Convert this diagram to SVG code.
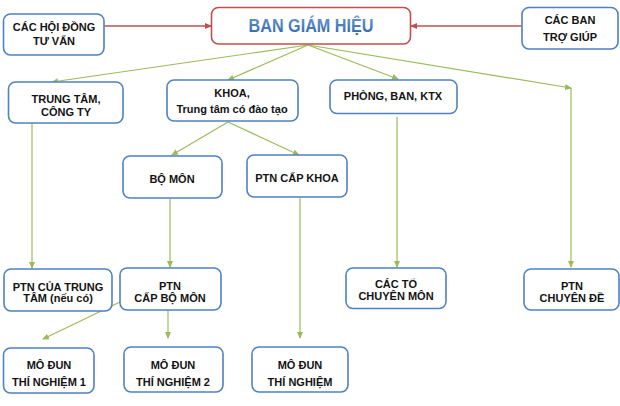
<svg xmlns="http://www.w3.org/2000/svg" width="620" height="406" viewBox="0 0 620 406">
  <defs>
    <style>
      .box{fill:#ffffff;stroke:#4f81c5;stroke-width:1.6}
      .rbox{fill:#ffffff;stroke:#c0504d;stroke-width:1.6}
      .t{font-family:"Liberation Sans",Arial,sans-serif;font-weight:bold;font-size:11px;fill:#141414;text-anchor:middle}
      .g{stroke:#9bbb59;stroke-width:1.2;fill:none;marker-end:url(#ga)}
      .r{stroke:#c0504d;stroke-width:1.6;fill:none;marker-end:url(#ra)}
      .title{font-family:"Liberation Sans",Arial,sans-serif;font-weight:bold;font-size:19px;text-anchor:middle}
    </style>
    <marker id="ga" markerUnits="userSpaceOnUse" markerWidth="7" markerHeight="6" refX="6" refY="3" orient="auto">
      <path d="M0,0 L7,3 L0,6 Z" fill="#9bbb59"/>
    </marker>
    <marker id="ra" markerUnits="userSpaceOnUse" markerWidth="7" markerHeight="6" refX="6" refY="3" orient="auto">
      <path d="M0,0 L7,3 L0,6 Z" fill="#c0504d"/>
    </marker>
    <linearGradient id="tg" x1="0" y1="0" x2="0" y2="1">
      <stop offset="0" stop-color="#6a9ad6"/>
      <stop offset="1" stop-color="#2e63a8"/>
    </linearGradient>
  </defs>

  <g id="connectors">
    <line class="r" x1="104" y1="26" x2="211" y2="26"/>
    <line class="r" x1="522" y1="26" x2="411" y2="26"/>
    <line class="g" x1="308" y1="45" x2="52" y2="82"/>
    <line class="g" x1="308" y1="45" x2="228" y2="80"/>
    <line class="g" x1="308" y1="45" x2="398" y2="79"/>
    <line class="g" x1="308" y1="45" x2="571" y2="88"/>
    <line class="g" x1="571" y1="88" x2="571" y2="267"/>
    <line class="g" x1="32" y1="123" x2="32" y2="268"/>
    <line class="g" x1="228" y1="122" x2="172" y2="155"/>
    <line class="g" x1="228" y1="122" x2="299" y2="155"/>
    <line class="g" x1="170" y1="199" x2="170" y2="267"/>
    <line class="g" x1="300" y1="198" x2="300" y2="338"/>
    <line class="g" x1="397" y1="117" x2="397" y2="267"/>
    <line class="g" x1="120" y1="302" x2="43" y2="339"/>
    <line class="g" x1="168" y1="310" x2="168" y2="338"/>
  </g>

  <g id="n-hoidong">
    <rect class="box" x="3.5" y="14" width="100.5" height="41" rx="7"/>
    <text class="t" x="54" y="31">CÁC HỘI ĐỒNG</text>
    <text class="t" x="54" y="45">TƯ VẤN</text>
  </g>

  <g id="n-bgh">
    <rect class="rbox" x="211.5" y="7.5" width="199" height="36.5" rx="7"/>
    <text class="title" x="311" y="32" fill="url(#tg)" textLength="125" lengthAdjust="spacingAndGlyphs">BAN GIÁM HIỆU</text>
  </g>

  <g id="n-trogiup">
    <rect class="box" x="522" y="7.5" width="96" height="41.5" rx="7"/>
    <text class="t" x="570" y="24">CÁC BAN</text>
    <text class="t" x="570" y="41">TRỢ GIÚP</text>
  </g>

  <g id="n-trungtam">
    <rect class="box" x="8.5" y="82" width="114.5" height="41" rx="7"/>
    <text class="t" x="66" y="103">TRUNG TÂM,</text>
    <text class="t" x="66" y="116">CÔNG TY</text>
  </g>

  <g id="n-khoa">
    <rect class="box" x="167" y="80" width="131" height="41" rx="7"/>
    <text class="t" x="232" y="97">KHOA,</text>
    <text class="t" x="232" y="113">Trung tâm có đào tạo</text>
  </g>

  <g id="n-phong">
    <rect class="box" x="330" y="80" width="127" height="33.5" rx="7"/>
    <text class="t" x="393" y="100">PHÒNG, BAN, KTX</text>
  </g>

  <g id="n-bomon">
    <rect class="box" x="123" y="156" width="99" height="42" rx="7"/>
    <text class="t" x="172" y="183">BỘ MÔN</text>
  </g>

  <g id="n-ptnkhoa">
    <rect class="box" x="247" y="155" width="100" height="42" rx="7"/>
    <text class="t" x="297" y="182">PTN CẤP KHOA</text>
  </g>

  <g id="n-ptntrungtam">
    <rect class="box" x="4" y="269" width="108" height="42" rx="7"/>
    <text class="t" x="58" y="291">PTN CỦA TRUNG</text>
    <text class="t" x="58" y="302">TÂM (nếu có)</text>
  </g>

  <g id="n-ptnbomon">
    <rect class="box" x="120" y="268" width="101" height="42" rx="7"/>
    <text class="t" x="170" y="290">PTN</text>
    <text class="t" x="170" y="302">CẤP BỘ MÔN</text>
  </g>

  <g id="n-toCM">
    <rect class="box" x="346" y="268" width="100" height="40.5" rx="7"/>
    <text class="t" x="396" y="288">CÁC TỔ</text>
    <text class="t" x="396" y="300">CHUYÊN MÔN</text>
  </g>

  <g id="n-chuyende">
    <rect class="box" x="524" y="269" width="95" height="41" rx="7"/>
    <text class="t" x="572" y="290">PTN</text>
    <text class="t" x="572" y="302">CHUYÊN ĐỀ</text>
  </g>

  <g id="n-modun1">
    <rect class="box" x="3.5" y="348" width="90.5" height="45" rx="7"/>
    <text class="t" x="49" y="369">MÔ ĐUN</text>
    <text class="t" x="49" y="386">THÍ NGHIỆM 1</text>
  </g>

  <g id="n-modun2">
    <rect class="box" x="124" y="347" width="99" height="45" rx="7"/>
    <text class="t" x="173" y="369">MÔ ĐUN</text>
    <text class="t" x="173" y="386">THÍ NGHIỆM 2</text>
  </g>

  <g id="n-modun3">
    <rect class="box" x="252" y="347" width="96" height="45" rx="7"/>
    <text class="t" x="300" y="369">MÔ ĐUN</text>
    <text class="t" x="300" y="386">THÍ NGHIỆM</text>
  </g>
</svg>
